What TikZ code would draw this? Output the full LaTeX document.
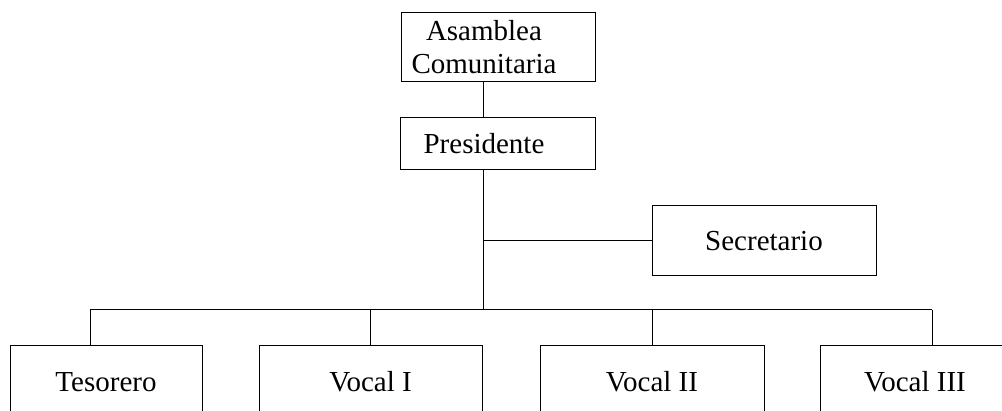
\documentclass[tikz,border=0pt]{standalone}
\usepackage{fontspec}
\setmainfont{Liberation Serif}
\tikzset{
  cargo/.style={draw, line width=0.5pt, inner sep=0pt, align=center,
    font=\fontsize{14.5}{16.5}\selectfont},
  texto/.style={inner sep=0pt, align=center, font=\fontsize{14.5}{16.5}\selectfont},
  enlace/.style={line width=0.5pt}
}
\begin{document}
\begin{tikzpicture}[x=0.5pt, y=-0.5pt]
    \useasboundingbox (0, 0) rectangle (1002, 411) ;
    \clip (0, 0) rectangle (1002, 411) ;
    % cajas de arriba
    \node[cargo, minimum width=97pt, minimum height=34.5pt] (asam) at (498, 47.5) {} ;
    \node[texto] (asamt) at (484, 47.5) {Asamblea\\Comunitaria} ;
    \node[cargo, minimum width=97.5pt, minimum height=26pt] (pres) at (497.5, 144) {} ;
    \node[texto] (prest) at (484, 144) {Presidente} ;
    \node[cargo, minimum width=112pt, minimum height=35pt] (secr) at (764, 241) {Secretario} ;
    % cajas de abajo
    \node[cargo, minimum width=96pt, minimum height=36pt] (teso) at (106, 382) {Tesorero} ;
    \node[cargo, minimum width=111.5pt, minimum height=36pt] (voc1) at (370.5, 382) {Vocal I} ;
    \node[cargo, minimum width=112pt, minimum height=36pt] (voc2) at (652, 382) {Vocal II} ;
    \node[cargo, minimum width=95pt, minimum height=36pt] (voc3) at (915, 382) {Vocal III} ;
    % lineas
    \coordinate (eje) at (483, 310) ;
    \coordinate (b1) at (90, 310) ;
    \coordinate (b2) at (370, 310) ;
    \coordinate (b3) at (652, 310) ;
    \coordinate (b4) at (932, 310) ;
    \draw[enlace] (asam.south -| eje) -- (pres.north -| eje) ;
    \draw[enlace] (pres.south -| eje) -- (eje) ;
    \draw[enlace] (eje |- secr.west) -- (secr.west) ;
    \draw[enlace] (b1) -- (b4) ;
    \draw[enlace] (b1) -- (b1 |- teso.north) ;
    \draw[enlace] (b2) -- (b2 |- voc1.north) ;
    \draw[enlace] (b3) -- (b3 |- voc2.north) ;
    \draw[enlace] (b4) -- (b4 |- voc3.north) ;
\end{tikzpicture}
\end{document}
